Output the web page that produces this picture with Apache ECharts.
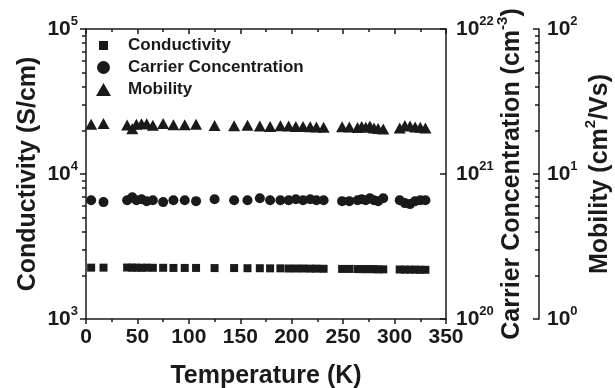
<!DOCTYPE html>
<html>
<head>
<meta charset="utf-8">
<script src="https://cdn.jsdelivr.net/npm/echarts@6/dist/echarts.min.js"></script>
<style>
  html, body { margin: 0; padding: 0; background: #fff; }
  #chart { width: 615px; height: 388px; }
</style>
</head>
<body>
<div id="chart"></div>
<script>
// temperature (K)
const temperature = [5, 17, 40, 45, 49, 54, 59, 65, 75, 85, 96, 107, 125, 144, 157, 169, 179, 189, 197, 204,
  211, 218, 224, 231, 249, 256, 264, 268, 272, 276, 280, 284, 289, 305, 310, 315, 320, 325, 330]

// conductivity (S/cm)
const conductivity = [2260, 2260, 2265, 2260, 2260, 2255, 2260, 2255, 2255, 2250, 2250, 2250, 2245, 2245, 2240,
  2240, 2235, 2235, 2230, 2230, 2230, 2225, 2225, 2220, 2215, 2215, 2210, 2210, 2205, 2210, 2205, 2200, 2200,
  2195, 2190, 2190, 2190, 2185, 2185]

// carrier concentration (cm^-3)
const carrier = [6.6e20, 6.4e20, 6.6e20, 6.9e20, 6.6e20, 6.7e20, 6.5e20, 6.6e20, 6.4e20, 6.6e20, 6.6e20, 6.5e20,
  6.7e20, 6.6e20, 6.6e20, 6.8e20, 6.6e20, 6.6e20, 6.6e20, 6.7e20, 6.6e20, 6.7e20, 6.6e20, 6.6e20, 6.5e20, 6.5e20,
  6.6e20, 6.7e20, 6.6e20, 6.8e20, 6.6e20, 6.5e20, 6.8e20, 6.6e20, 6.3e20, 6.2e20, 6.5e20, 6.6e20, 6.6e20]

// mobility (cm^2/Vs)
const mobility = [22.0, 22.3, 21.8, 20.5, 22.0, 22.2, 22.2, 21.7, 22.3, 21.9, 21.9, 22.0, 21.6, 21.5, 21.7, 21.4,
  21.3, 21.5, 21.4, 21.3, 21.3, 21.2, 21.1, 21.0, 21.2, 21.1, 20.9, 21.3, 21.0, 21.4, 20.8, 20.6, 20.4, 20.8,
  21.6, 21.4, 21.1, 21.0, 20.8]

// axis ranges (decade exponents) and minor tick multipliers
const condDecades = [3, 5]
const carrierDecades = [20, 22]
const mobilityDecades = [0, 2]
const minorSteps = [2, 3, 4, 5, 6, 7, 8, 9]

const FONT = '"Liberation Sans", Arial, Helvetica, sans-serif'
const INK = '#1a1a1a'

const chart = echarts.init(document.getElementById('chart'))

function toPairs(ys) {
  return temperature.map((t, i) => [t, ys[i]])
}

// minor tick positions in log10 space, for an overlay value axis
function minorTicks(decades) {
  const out = []
  for (let d = decades[0]; d < decades[1]; d++) {
    minorSteps.forEach(m => out.push(d + Math.log10(m)))
  }
  return out
}

const supRich = {
  b: { fontSize: 21, fontWeight: 'bold', fontFamily: FONT, color: INK, lineHeight: 28, verticalAlign: 'middle' },
  s: { fontSize: 13, fontWeight: 'bold', fontFamily: FONT, color: INK, lineHeight: 13, verticalAlign: 'top' }
}
const nameRich = {
  s: { fontSize: 15, fontWeight: 'bold', fontFamily: FONT, color: INK, lineHeight: 15, verticalAlign: 'top' }
}
const nameStyle = { fontSize: 25, fontWeight: 'bold', fontFamily: FONT, color: INK, lineHeight: 34, rich: nameRich }
const lineStyle = { color: INK, width: 1.5 }

function supLabel(v) {
  return '{b|10}{s|' + Math.round(Math.log10(v)) + '}'
}

function logAxis(decades, position, offset, inside, opts) {
  return Object.assign({
    type: 'log',
    logBase: 10,
    position: position,
    offset: offset,
    min: Math.pow(10, decades[0]),
    max: Math.pow(10, decades[1]),
    axisLine: { show: true, onZero: false, lineStyle: lineStyle },
    axisTick: { show: true, inside: inside, length: 6, lineStyle: lineStyle },
    splitLine: { show: false },
    nameLocation: 'middle',
    nameRotate: 90,
    nameMoveOverlap: false,
    nameTextStyle: nameStyle
  }, opts)
}

function minorAxis(decades, position, offset, inside) {
  return {
    type: 'value',
    position: position,
    offset: offset,
    min: decades[0],
    max: decades[1],
    axisLine: { show: false },
    axisTick: { show: true, inside: inside, length: 4, lineStyle: lineStyle, customValues: minorTicks(decades) },
    axisLabel: { show: false },
    splitLine: { show: false }
  }
}

const option = {
  backgroundColor: '#fff',
  animation: false,
  grid: { left: 86, right: 169, top: 29, bottom: 69, outerBoundsMode: 'none', containLabel: false },
  legend: {
    orient: 'vertical',
    left: 91,
    top: 32,
    itemWidth: 15,
    itemHeight: 13,
    itemGap: 5,
    textStyle: { fontSize: 17, fontWeight: 'bold', fontFamily: FONT, color: INK, padding: [0, 0, 0, 12] },
    data: [
      // small square drawn inside a padded box
      { name: 'Conductivity', icon: 'path://M0,0M15,13M3,2H12V11H3Z' },
      { name: 'Carrier Concentration', icon: 'circle' },
      { name: 'Mobility', icon: 'triangle' }
    ]
  },
  xAxis: [
    {
      type: 'value',
      position: 'bottom',
      min: 0,
      max: 350,
      interval: 50,
      name: 'Temperature (K)',
      nameLocation: 'middle',
      nameGap: 45,
      nameMoveOverlap: false,
      nameTextStyle: { fontSize: 25, fontWeight: 'bold', fontFamily: FONT, color: INK },
      axisLine: { onZero: false, lineStyle: lineStyle },
      axisTick: { show: true, inside: false, length: 5, lineStyle: lineStyle },
      minorTick: { show: true, splitNumber: 2, length: 3, lineStyle: lineStyle },
      axisLabel: { fontSize: 21, fontWeight: 'bold', fontFamily: FONT, color: INK, margin: 8 },
      splitLine: { show: false }
    },
    {
      type: 'value',
      position: 'top',
      min: 0,
      max: 350,
      interval: 50,
      axisLine: { onZero: false, lineStyle: lineStyle },
      axisTick: { show: true, inside: true, length: 5, lineStyle: lineStyle },
      minorTick: { show: true, splitNumber: 2, length: 3, lineStyle: lineStyle },
      axisLabel: { show: false },
      splitLine: { show: false }
    }
  ],
  yAxis: [
    logAxis(condDecades, 'left', 0, false, {
      name: 'Conductivity (S/cm)',
      nameGap: 41,
      axisLabel: { formatter: supLabel, rich: supRich, margin: 8 }
    }),
    minorAxis(condDecades, 'left', 0, false),
    logAxis(carrierDecades, 'right', 0, true, {
      name: 'Carrier Concentration (cm{s|-3})',
      nameGap: 49,
      axisLabel: { formatter: supLabel, rich: supRich, margin: 10 }
    }),
    minorAxis(carrierDecades, 'right', 0, true),
    logAxis(mobilityDecades, 'right', 93, true, {
      name: 'Mobility (cm{s|2}/Vs)',
      nameGap: 44,
      axisLabel: { formatter: supLabel, rich: supRich, margin: 8 }
    }),
    minorAxis(mobilityDecades, 'right', 93, true)
  ],
  series: [
    {
      name: 'Conductivity',
      type: 'scatter',
      xAxisIndex: 0,
      yAxisIndex: 0,
      symbol: 'rect',
      symbolSize: 8,
      itemStyle: { color: INK, opacity: 1 },
      data: toPairs(conductivity)
    },
    {
      name: 'Carrier Concentration',
      type: 'scatter',
      xAxisIndex: 0,
      yAxisIndex: 2,
      symbol: 'circle',
      symbolSize: 10,
      itemStyle: { color: INK, opacity: 1 },
      data: toPairs(carrier)
    },
    {
      name: 'Mobility',
      type: 'scatter',
      xAxisIndex: 0,
      yAxisIndex: 4,
      symbol: 'triangle',
      symbolSize: [12, 11],
      itemStyle: { color: INK, opacity: 1 },
      data: toPairs(mobility)
    }
  ]
}

chart.setOption(option)
</script>
</body>
</html>
